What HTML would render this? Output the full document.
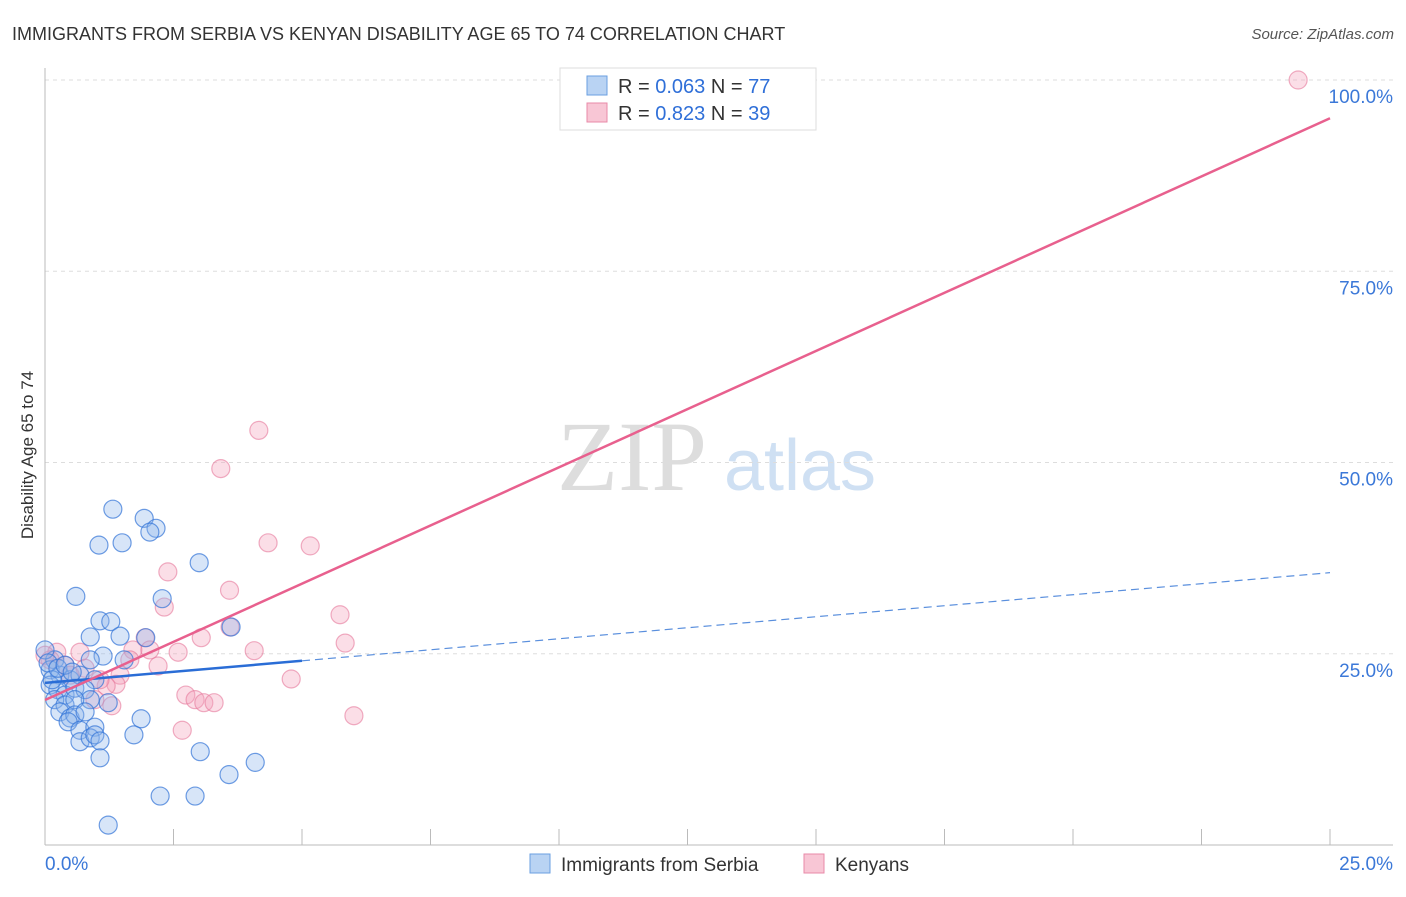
<!DOCTYPE html>
<html><head><meta charset="utf-8"><style>
body{margin:0;background:#fff;font-family:"Liberation Sans",sans-serif}
</style></head><body>
<svg id="chart" width="1406" height="892" xmlns="http://www.w3.org/2000/svg" font-family="Liberation Sans, sans-serif">
<text x="12" y="40" font-size="18" fill="#333">IMMIGRANTS FROM SERBIA VS KENYAN DISABILITY AGE 65 TO 74 CORRELATION CHART</text>
<text x="1394" y="39" font-size="15" fill="#555" font-style="italic" text-anchor="end">Source: ZipAtlas.com</text>
<text transform="translate(33,455) rotate(-90)" font-size="17" fill="#333" text-anchor="middle">Disability Age 65 to 74</text>
<g>
<text x="632" y="490" font-size="100" font-family="Liberation Serif, serif" fill="#ddd" text-anchor="middle">ZIP</text>
<text x="800" y="490" font-size="72" fill="#cfe0f3" text-anchor="middle">atlas</text>
</g>
<g id="grid"></g><g id="axes"></g><g id="pts"></g><g id="lines"></g>
<g>
<rect x="560" y="68" width="256" height="62" fill="#fff" stroke="#ddd"/>
<rect x="587" y="76" width="20" height="19" fill="#b9d3f3" stroke="#6a9fe0"/>
<rect x="587" y="103" width="20" height="19" fill="#f8c6d5" stroke="#e88aa8"/>
<text x="618" y="93" font-size="20" fill="#333">R = <tspan fill="#2f6fd8">0.063</tspan>   N = <tspan fill="#2f6fd8">77</tspan></text>
<text x="618" y="120" font-size="20" fill="#333">R = <tspan fill="#2f6fd8"> 0.823</tspan>   N = <tspan fill="#2f6fd8">39</tspan></text>
</g>
<g>
<rect x="530" y="854" width="20" height="19" fill="#b9d3f3" stroke="#6a9fe0"/>
<text x="561" y="871" font-size="19" fill="#333">Immigrants from Serbia</text>
<rect x="804" y="854" width="20" height="19" fill="#f8c6d5" stroke="#e88aa8"/>
<text x="835" y="871" font-size="19" fill="#333">Kenyans</text>
</g>
</svg>
<script>
const yTicks=[25,50,75,100];
const yTickLabels=["25.0%","50.0%","75.0%","100.0%"];
const xTickLabels=["0.0%","25.0%"];
const serbiaX=[1.32,1.93,2.16,2.04,1.05,1.50,3.00,0.60,2.28,1.07,1.28,3.62,0.88,1.46,1.96,1.54,1.13,0.19,0.10,0.29,0.49,0.68,0.97,0.10,0.25,0.39,0.58,0.78,0.88,0.19,0.39,0.58,1.23,0.29,0.49,0.58,0.78,0.45,1.87,0.68,0.97,0.68,0.88,0.97,1.07,1.73,1.07,3.02,4.09,3.58,2.24,2.92,1.23,0,0.06,0.14,0.25,0.39,0.53,0.88];
const serbiaY=[43.9,42.7,41.4,40.9,39.2,39.5,36.9,32.5,32.2,29.3,29.2,28.5,27.2,27.3,27.1,24.2,24.7,24.2,22.9,22.2,21.6,22.2,21.6,20.9,20.3,19.6,20.5,20.3,19.0,19.0,18.3,19.0,18.6,17.4,16.6,17.0,17.4,16.1,16.5,15.0,15.4,13.5,14.0,14.4,13.6,14.4,11.4,12.2,10.8,9.2,6.4,6.4,2.6,25.5,23.8,21.6,23.1,23.5,22.6,24.2];
const kenyaX=[24.38,4.16,3.42,4.34,5.16,2.39,3.59,2.32,5.74,3.6,3.04,1.95,5.84,1.71,2.59,4.07,2.04,0.68,0.23,0.1,0.39,2.2,1.46,0.78,4.79,1.38,1.19,2.74,2.92,3.09,3.29,1.3,6.01,2.67,0.97,1.07,0.49,0,1.65];
const kenyaY=[100,54.2,49.2,39.5,39.1,35.7,33.3,31.1,30.1,28.5,27.1,27.1,26.4,25.5,25.2,25.4,25.5,25.2,25.2,24.2,23.5,23.4,22.2,23.1,21.7,21.0,20.8,19.6,19.0,18.6,18.6,18.2,16.9,15.0,19.0,21.6,22.2,24.8,24.2];
const serbiaTrend=[21.2,35.6]; // y at x=0 and x=25
const kenyaTrend=[18.95,95.0];
const NS="http://www.w3.org/2000/svg";
const X=v=>45+v/25*1285, Y=v=>845-v*7.65;
function mk(p,t,a){const e=document.createElementNS(NS,t);for(const k in a)e.setAttribute(k,a[k]);document.getElementById(p).appendChild(e);return e;}
yTicks.forEach((t,i)=>{
 const g=mk('grid','line',{x1:45,x2:1393,y1:Y(t),y2:Y(t),stroke:'#ddd','stroke-dasharray':'4 4'});
 
 
 const l=mk('grid','text',{x:1393,y:Y(t)+23,'font-size':19,fill:'#3b78d8','text-anchor':'end'});
 l.textContent=yTickLabels[i];
 
 
});
const ax=mk('axes','line',{x1:45,x2:1393,y1:845,y2:845,stroke:'#bbb'});


const ay=mk('axes','line',{x1:45,x2:45,y1:68,y2:845,stroke:'#bbb'});


for(let i=1;i<=10;i++){const t=mk('axes','line',{x1:X(i*2.5),x2:X(i*2.5),y1:829,y2:845,stroke:'#bbb'});
 
 }
[[0,'start',45],[1,'end',1393]].forEach(([i,a,x])=>{const l=mk('axes','text',{x:x,y:870,'font-size':19,fill:'#3b78d8','text-anchor':a});l.textContent=xTickLabels[i];
 
 });
kenyaX.forEach((v,i)=>{const c=mk('pts','circle',{cx:X(v),cy:Y(kenyaY[i]),r:9,fill:'rgba(244,160,186,0.35)',stroke:'rgba(230,120,155,0.6)','stroke-width':1.2});
 
 });
serbiaX.forEach((v,i)=>{const c=mk('pts','circle',{cx:X(v),cy:Y(serbiaY[i]),r:9,fill:'rgba(140,180,235,0.35)',stroke:'rgba(50,115,215,0.7)','stroke-width':1.2});
 
 });
const sAt=x=>serbiaTrend[0]+(serbiaTrend[1]-serbiaTrend[0])*x/25;
const l1=mk('lines','line',{x1:X(0),y1:Y(sAt(0)),x2:X(5),y2:Y(sAt(5)),stroke:'#2a6dd6','stroke-width':2.5});


const l2=mk('lines','line',{x1:X(5),y1:Y(sAt(5)),x2:X(25),y2:Y(sAt(25)),stroke:'#5a8fdd','stroke-width':1.2,'stroke-dasharray':'8 5'});


const l3=mk('lines','line',{x1:X(0),y1:Y(kenyaTrend[0]),x2:X(25),y2:Y(kenyaTrend[1]),stroke:'#e8608e','stroke-width':2.5});


</script>
</body></html>
